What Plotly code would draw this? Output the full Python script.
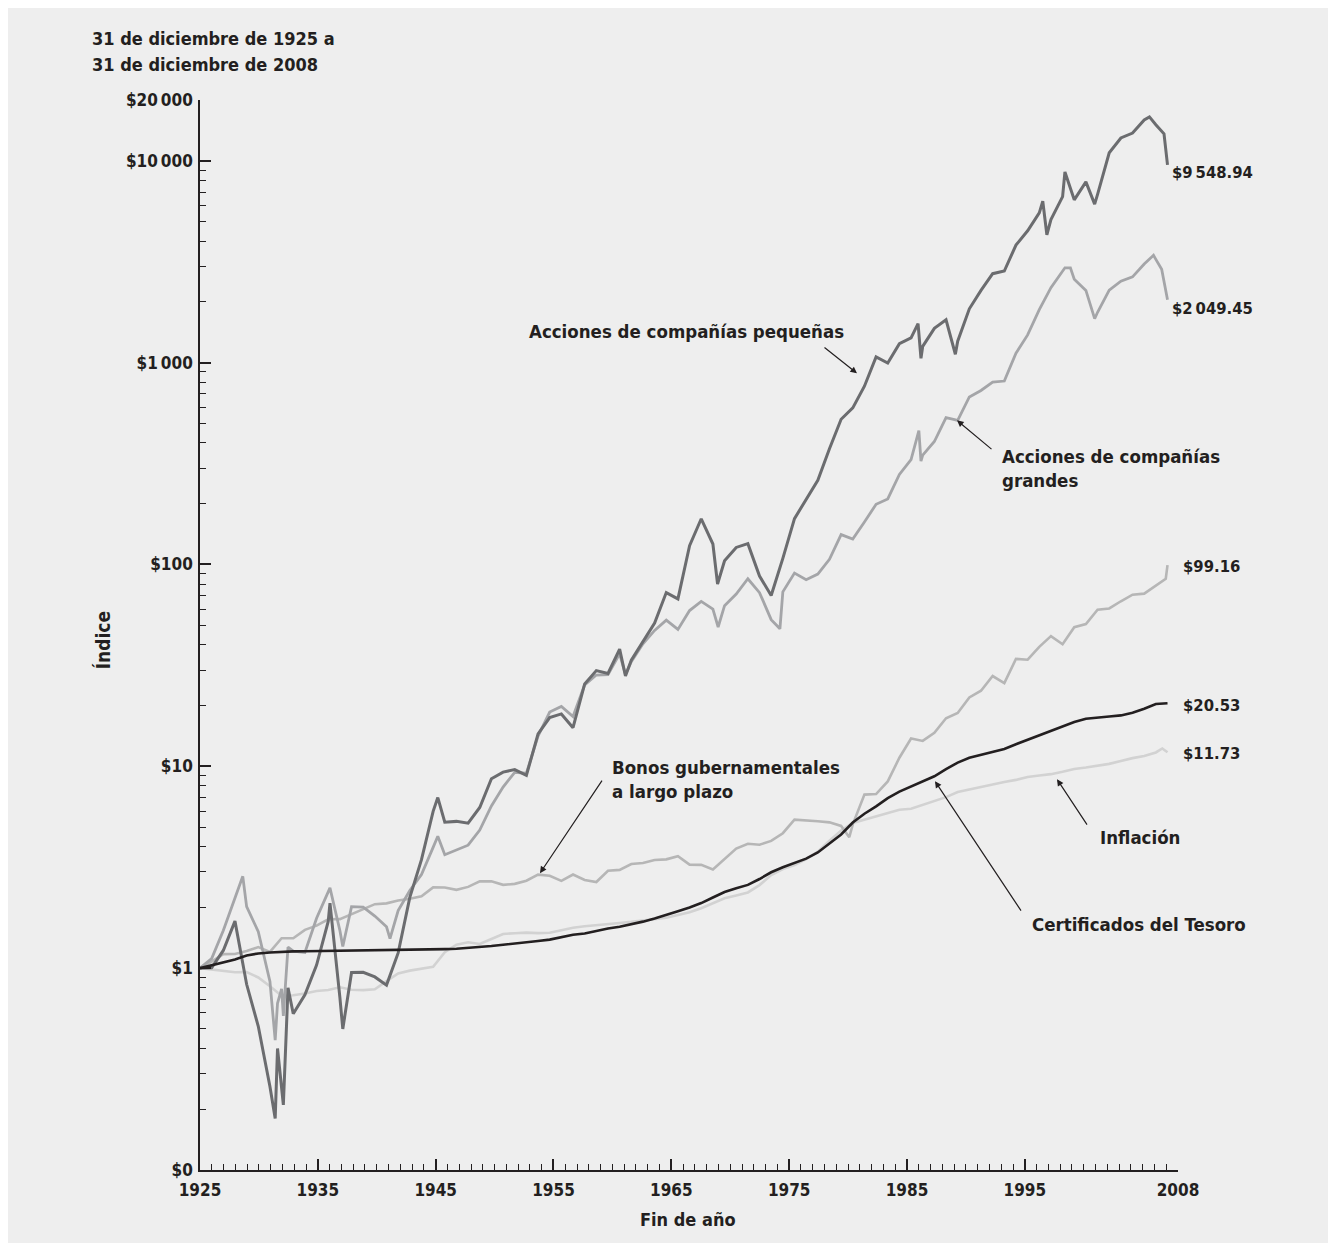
import math
import plotly.graph_objects as go

# ---------------- data (index value, $1 invested at end of 1925) ----------------
years = list(range(1925, 2009))

large_stocks = [
    1.000, 1.116, 1.535, 2.204, 2.018, 1.516, 0.859, 0.789, 1.214, 1.197,
    1.767, 2.367, 1.538, 2.016, 2.008, 1.812, 1.602, 1.927, 2.427, 2.906,
    3.965, 3.645, 3.853, 4.065, 4.829, 6.360, 7.888, 9.336, 9.244, 14.108,
    18.561, 19.778, 17.646, 25.298, 28.322, 28.455, 36.106, 32.954, 40.469, 47.139,
    53.008, 47.674, 59.104, 65.642, 60.059, 62.465, 71.406, 84.956, 72.500, 53.311,
    73.144, 90.584, 84.077, 89.592, 106.113, 140.514, 133.616, 162.223, 198.745, 211.199,
    279.117, 330.671, 347.967, 406.458, 534.455, 517.499, 675.592, 727.412, 800.078, 810.538,
    1113.918, 1370.946, 1828.326, 2350.892, 2845.629, 2586.524, 2279.127, 1775.341, 2284.785, 2533.370,
    2657.810, 3077.574, 3246.671, 2049.45]

small_stocks = [
    1.000, 1.003, 1.224, 1.710, 0.832, 0.515, 0.259, 0.245, 0.594, 0.738,
    1.035, 1.705, 0.716, 0.951, 0.954, 0.905, 0.824, 1.190, 2.242, 3.446,
    5.983, 5.287, 5.335, 5.223, 6.254, 8.677, 9.354, 9.637, 9.012, 14.471,
    17.429, 18.175, 15.527, 25.602, 29.801, 28.820, 38.069, 33.539, 41.444, 51.192,
    72.565, 67.478, 123.87, 168.43, 126.24, 104.24, 121.44, 126.82, 87.63, 70.15,
    107.20, 168.71, 211.53, 261.16, 374.66, 524.07, 596.81, 763.98, 1067.0, 995.9,
    1241.5, 1326.5, 1203.2, 1478.3, 1628.8, 1277.6, 1847.8, 2279.3, 2757.5, 2843.3,
    3823.1, 4496.8, 5521.1, 5117.5, 6642.1, 6403.7, 7861.8, 6817.8, 10956, 12971,
    13709, 15926, 15094, 9548.94]

lt_gov_bonds = [
    1.000, 1.078, 1.174, 1.175, 1.215, 1.272, 1.204, 1.407, 1.406, 1.547,
    1.624, 1.746, 1.750, 1.847, 1.956, 2.075, 2.094, 2.162, 2.207, 2.269,
    2.512, 2.510, 2.444, 2.527, 2.690, 2.692, 2.586, 2.616, 2.711, 2.906,
    2.868, 2.708, 2.910, 2.733, 2.671, 3.039, 3.068, 3.280, 3.319, 3.436,
    3.460, 3.586, 3.257, 3.248, 3.084, 3.457, 3.914, 4.136, 4.090, 4.268,
    4.661, 5.441, 5.404, 5.340, 5.275, 5.066, 5.160, 7.243, 7.290, 8.419,
    11.027, 13.732, 13.360, 14.652, 17.306, 18.380, 21.926, 23.683, 28.002, 25.846,
    34.044, 33.727, 39.074, 44.178, 40.218, 48.856, 50.662, 59.699, 60.564, 65.717,
    70.852, 71.694, 78.785, 99.16]

treasury_bills = [
    1.000, 1.033, 1.065, 1.103, 1.155, 1.183, 1.196, 1.207, 1.211, 1.213,
    1.215, 1.217, 1.221, 1.221, 1.221, 1.221, 1.222, 1.225, 1.229, 1.233,
    1.237, 1.242, 1.248, 1.258, 1.272, 1.287, 1.306, 1.328, 1.352, 1.364,
    1.385, 1.419, 1.464, 1.486, 1.530, 1.571, 1.604, 1.648, 1.700, 1.760,
    1.829, 1.916, 1.997, 2.101, 2.239, 2.385, 2.490, 2.585, 2.764, 2.986,
    3.159, 3.319, 3.489, 3.740, 4.128, 4.592, 5.267, 5.823, 6.335, 6.959,
    7.496, 7.958, 8.393, 8.926, 9.673, 10.429, 11.012, 11.398, 11.728, 12.186,
    12.868, 13.538, 14.250, 14.942, 15.641, 16.563, 17.197, 17.480, 17.659, 17.871,
    18.403, 19.267, 20.352, 20.53]

inflation = [
    1.000, 0.985, 0.965, 0.955, 0.957, 0.899, 0.814, 0.730, 0.734, 0.749,
    0.771, 0.780, 0.804, 0.782, 0.778, 0.786, 0.862, 0.942, 0.972, 0.993,
    1.015, 1.199, 1.307, 1.343, 1.318, 1.395, 1.477, 1.490, 1.499, 1.492,
    1.497, 1.540, 1.586, 1.614, 1.638, 1.663, 1.674, 1.695, 1.723, 1.743,
    1.777, 1.836, 1.892, 1.981, 2.102, 2.218, 2.292, 2.371, 2.579, 2.894,
    3.097, 3.246, 3.466, 3.778, 4.281, 4.812, 5.242, 5.445, 5.652, 5.875,
    6.097, 6.165, 6.438, 6.722, 7.034, 7.464, 7.693, 7.916, 8.133, 8.351,
    8.563, 8.847, 8.998, 9.143, 9.389, 9.707, 9.857, 10.091, 10.281, 10.616,
    10.976, 11.248, 11.712, 11.73]

# intra-year peaks / troughs (fractional year, index)
large_extra_t = [1928.67, 1931.45, 1931.65, 1932.15, 1932.55, 1936.15, 1937.25, 1941.3,
                 1945.4, 1961.5, 1969.45, 1974.75, 1986.67, 1986.85, 1999.2, 1999.67,
                 2001.75, 2006.8, 2007.5]
large_extra_v = [2.85, 0.44, 0.67, 0.58, 1.27, 2.50, 1.28, 1.40,
                 4.50, 28.5, 49.0, 48.0, 460, 325, 2950, 2950,
                 1650, 3400, 2900]

small_extra_t = [1931.45, 1931.65, 1932.15, 1932.55, 1936.15, 1937.25, 1945.4, 1961.5,
                 1969.4, 1986.6, 1986.85, 1989.8, 1997.3, 1997.65, 1999.2, 2001.75,
                 2006.45, 2007.7]
small_extra_v = [0.18, 0.40, 0.21, 0.80, 2.10, 0.50, 7.0, 28.0,
                 80.0, 1560, 1050, 1100, 6300, 4300, 8800, 6100,
                 16500, 13600]

bonds_extra_t = [1980.7, 2007.85]
bonds_extra_v = [4.45, 85.0]

bills_extra_t = []
bills_extra_v = []

infl_extra_t = [2007.55]
infl_extra_v = [12.25]

# axis ticks
x_tick_years = [1925, 1935, 1945, 1955, 1965, 1975, 1985, 1995, 2008]
y_tickvals = [0.1, 1, 10, 100, 1000, 10000, 20000]
y_ticktext = ["$0", "$1", "$10", "$100", "$1\u2009000", "$10\u2009000", "$20\u2009000"]

# ---------------- styling ----------------
FONT = "'Liberation Sans Narrow', 'Arial Narrow', 'DejaVu Sans Condensed', sans-serif"
TXT = "#231f20"
BG = "#eeeeee"
Y_RANGE = [-1, math.log10(20000)]


def merged(base, et, ev):
    pts = sorted(list(zip(years, base)) + list(zip(et, ev)))
    return [p[0] for p in pts], [p[1] for p in pts]


series = [
    ("Inflación", inflation, infl_extra_t, infl_extra_v, "#d2d2d2", 2.6),
    ("Bonos gubernamentales a largo plazo", lt_gov_bonds, bonds_extra_t, bonds_extra_v, "#b6b6b6", 2.6),
    ("Acciones de compañías grandes", large_stocks, large_extra_t, large_extra_v, "#a4a5a8", 2.8),
    ("Acciones de compañías pequeñas", small_stocks, small_extra_t, small_extra_v, "#6b6c6f", 3.0),
    ("Certificados del Tesoro", treasury_bills, bills_extra_t, bills_extra_v, "#231f20", 2.6),
]

fig = go.Figure()
# empty traces that only register the axes used for ticks
for xa, ya in [("x", "y"), ("x3", "y"), ("x", "y2")]:
    fig.add_trace(go.Scatter(x=[], y=[], mode="lines", xaxis=xa, yaxis=ya,
                             showlegend=False, hoverinfo="skip"))
for name, base, et, ev, color, w in series:
    t, v = merged(base, et, ev)
    fig.add_trace(go.Scatter(x=t, y=v, mode="lines", name=name,
                             line=dict(color=color, width=w),
                             xaxis="x2", yaxis="y", hoverinfo="skip"))

minor_x = [y for y in range(1926, 2008) if y not in x_tick_years]
minor_y = [k * 10 ** d for d in range(-1, 4) for k in range(2, 10)]


def px(x):  # page pixel -> paper x
    return (x - 200) / 978


def py(y):  # page pixel -> paper y
    return (1170 - y) / 1070.5


annotations = []


def text(s, x, y, xanchor="left", size=18.5, angle=0, align="left"):
    annotations.append(dict(text=s, x=px(x), y=py(y), xref="paper", yref="paper",
                            xanchor=xanchor, yanchor="middle", showarrow=False,
                            textangle=angle, align=align,
                            font=dict(family=FONT, size=size, color=TXT, weight="bold")))


def arrow(tail, head):
    annotations.append(dict(text="", x=px(head[0]), y=py(head[1]), xref="paper", yref="paper",
                            ax=tail[0] - head[0], ay=tail[1] - head[1],
                            axref="pixel", ayref="pixel", showarrow=True,
                            arrowhead=2, arrowsize=1.1, arrowwidth=1.2,
                            arrowcolor=TXT, standoff=0))


text("31 de diciembre de 1925 a", 90, 38, size=18)
text("31 de diciembre de 2008", 90, 64, size=18)
text("Índice", 103, 640, xanchor="center", angle=-90, size=19)
text("Fin de año", 688, 1220, xanchor="center", size=18)

text("Acciones de compañías pequeñas", 527, 331)
text("Acciones de compañías<br>grandes", 1000, 468)
text("Bonos gubernamentales<br>a largo plazo", 610, 779)
text("Inflación", 1098, 837)
text("Certificados del Tesoro", 1030, 924)

text("$9\u2009548.94", 1170, 172, size=16.5)
text("$2\u2009049.45", 1170, 308, size=16.5)
text("$99.16", 1181, 566, size=16.5)
text("$20.53", 1181, 705, size=16.5)
text("$11.73", 1181, 753, size=16.5)

arrow((823, 346), (857, 373))
arrow((993, 450), (957, 420))
arrow((603, 779), (540, 873))
arrow((1088, 826), (1057, 779))
arrow((1022, 912), (935, 781))

tickfont = dict(family=FONT, size=17, color=TXT, weight="bold")

fig.update_layout(
    width=1320, height=1235,
    margin=dict(l=192, r=150, t=91.5, b=73, pad=0),
    paper_bgcolor=BG, plot_bgcolor=BG,
    showlegend=False,
    font=dict(family=FONT, size=17, color=TXT, weight="bold"),
    # visible year axis with major ticks and labels
    xaxis=dict(range=[1925, 2008], tickmode="array",
               tickvals=x_tick_years, ticktext=[str(y) for y in x_tick_years],
               ticks="inside", ticklen=11, tickwidth=1.6, tickcolor=TXT,
               showline=True, linecolor=TXT, linewidth=1.6,
               showgrid=False, zeroline=False, ticklabelstandoff=4,
               tickfont=tickfont, fixedrange=True),
    # data axis (year-ends as placed in the original drawing)
    xaxis2=dict(overlaying="x", anchor="y", range=[1925, 2008.9],
                visible=False, fixedrange=True),
    # short yearly ticks
    xaxis3=dict(overlaying="x", anchor="y", range=[1925, 2008], tickmode="array",
                tickvals=minor_x, showticklabels=False,
                ticks="inside", ticklen=6, tickwidth=1.3, tickcolor=TXT,
                showline=False, showgrid=False, zeroline=False, fixedrange=True),
    yaxis=dict(type="log", range=Y_RANGE,
               tickmode="array", tickvals=y_tickvals, ticktext=y_ticktext,
               ticks="inside", ticklen=11, tickwidth=1.6, tickcolor=TXT,
               showline=True, linecolor=TXT, linewidth=1.6,
               showgrid=False, zeroline=False, ticklabelstandoff=2,
               tickfont=tickfont, fixedrange=True),
    yaxis2=dict(type="log", range=Y_RANGE, overlaying="y", anchor="x", side="left",
                tickmode="array", tickvals=minor_y, showticklabels=False,
                ticks="inside", ticklen=6, tickwidth=1.3, tickcolor=TXT,
                showline=False, showgrid=False, zeroline=False, fixedrange=True),
    annotations=annotations,
)

fig.write_html("out.html")
